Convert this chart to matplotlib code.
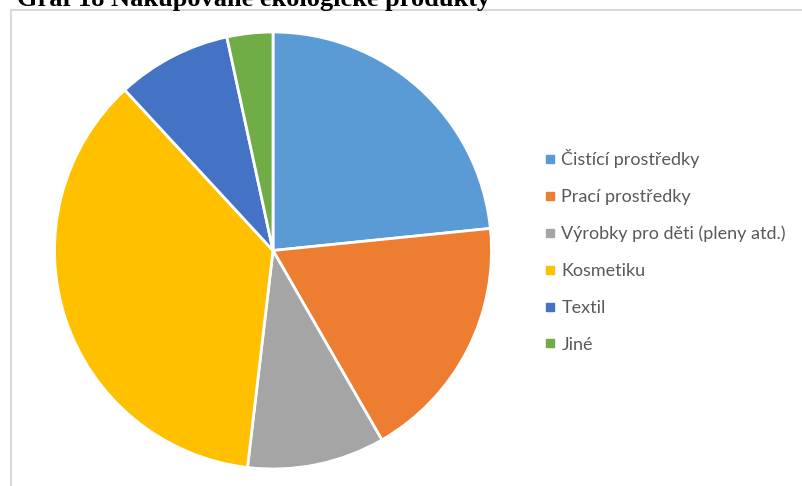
import matplotlib.pyplot as plt
from matplotlib.lines import Line2D
from matplotlib.patches import Rectangle

# Nakupované ekologické produkty (počty odpovědí)
categories = ["Čistící prostředky", "Prací prostředky", "Výrobky pro děti (pleny atd.)",
              "Kosmetiku", "Textil", "Jiné"]
counts = [69, 54, 30, 107, 25, 10]
colors = ["#5B9BD5", "#ED7D31", "#A5A5A5", "#FFC000", "#4472C4", "#70AD47"]

W, H = 803, 486
fig = plt.figure(figsize=(W / 100, H / 100), dpi=100)

# rámeček grafu (horní a levá hrana, zbytek mimo výřez)
fig.patches.append(Rectangle((11 / W, -0.1), 1.2, (H - 9.5) / H + 0.1,
                             transform=fig.transFigure, fill=False,
                             edgecolor="#D9D9D9", linewidth=1.5))

# titulek, horní polovina je oříznutá
fig.text(17 / W, 1 - 6 / H, "Graf 18 Nakupované ekologické produkty",
         family="Liberation Serif", fontweight="bold", fontsize=19,
         va="baseline", ha="left", color="black")

cx, cy, r = 273, 250.5, 218.5
ax = fig.add_axes([(cx - r) / W, (H - cy - r) / H, 2 * r / W, 2 * r / H])
ax.pie(counts, colors=colors, startangle=90, counterclock=False, radius=1,
       wedgeprops=dict(edgecolor="white", linewidth=2))
ax.set_xlim(-1, 1)
ax.set_ylim(-1, 1)
ax.set_aspect("equal")
ax.axis("off")

handles = [Line2D([], [], marker="s", linestyle="none", markersize=5.5,
                  markerfacecolor=c, markeredgecolor=c) for c in colors]
fig.legend(handles, categories, loc="upper left",
           bbox_to_anchor=(538 / W, 1 - 142 / H), frameon=False,
           prop=dict(family="Lato", size=13), labelcolor="#595959",
           handlelength=0.5, handletextpad=0.4, labelspacing=1.15,
           borderaxespad=0)

fig.savefig("out.png", dpi=100)
